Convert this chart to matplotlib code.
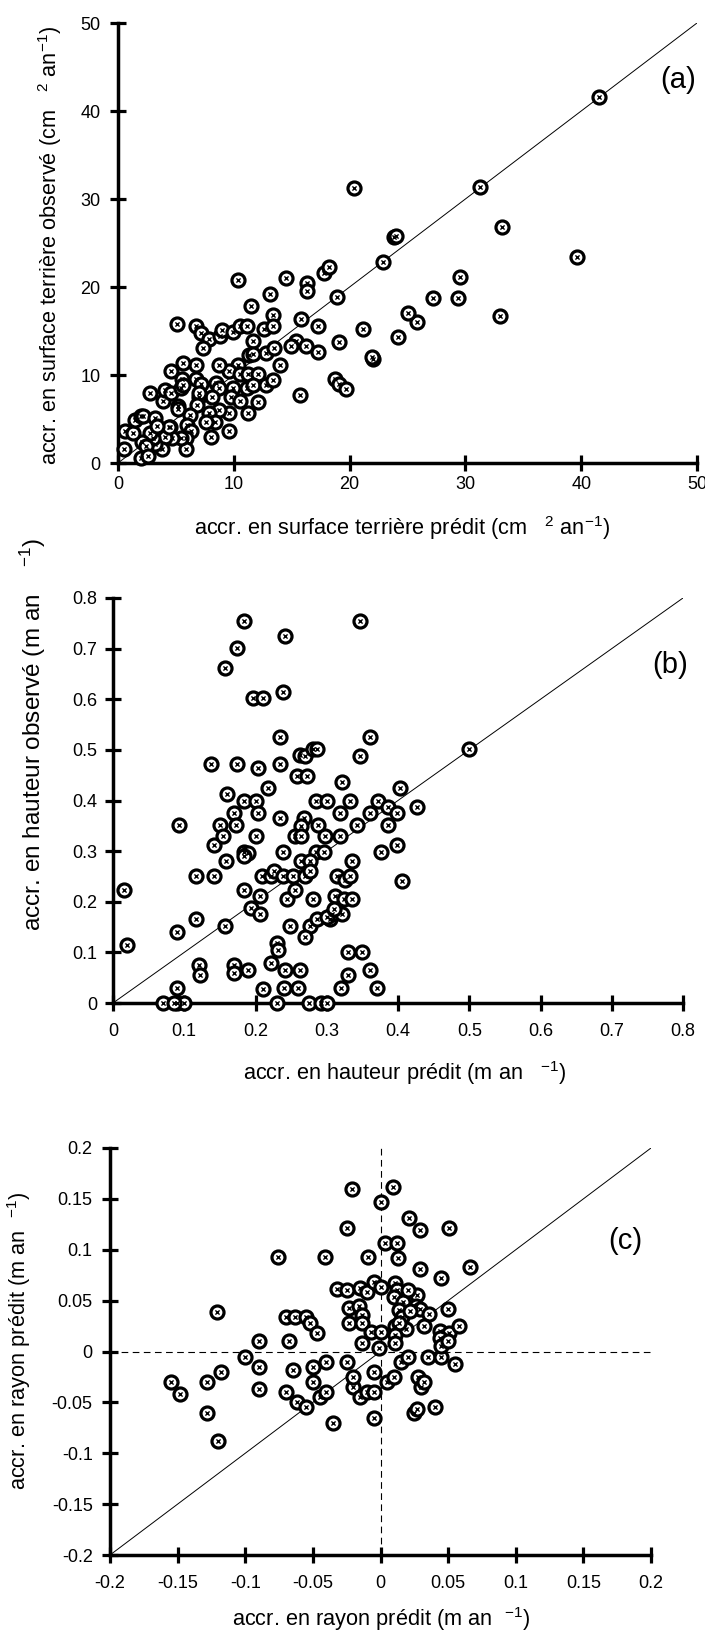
import numpy as np
import matplotlib
matplotlib.use("Agg")
import matplotlib.pyplot as plt

plt.rcParams['font.family'] = ['Liberation Sans', 'DejaVu Sans']
plt.rcParams['mathtext.fontset'] = 'custom'
plt.rcParams['mathtext.rm'] = 'Liberation Sans'
plt.rcParams['mathtext.default'] = 'regular'
plt.rcParams['axes.unicode_minus'] = False

# (predicted, observed) basal area increment, cm2/yr
surface_pts = [
    (41.5, 41.6), (39.6, 23.4), (31.3, 31.4), (33.2, 26.8), (29.5, 21.1), (29.4, 18.7),
    (33.0, 16.7), (27.2, 18.7), (25.8, 16.0), (25.0, 17.0), (24.2, 14.3), (23.8, 25.7),
    (24.0, 25.8), (22.9, 22.8), (22.0, 11.8), (20.4, 31.2),
    (10.4, 20.8), (14.5, 21.0), (16.3, 20.5), (16.3, 19.6), (17.8, 21.6), (18.2, 22.3),
    (13.1, 19.2), (11.5, 17.8), (18.9, 18.9), (13.4, 16.8), (15.8, 16.4), (5.1, 15.8),
    (6.7, 15.6), (7.2, 14.8), (7.9, 14.1), (8.8, 14.4), (9.0, 15.1), (9.9, 14.9),
    (10.5, 15.6), (11.1, 15.6), (12.6, 15.2), (13.4, 15.6), (11.7, 13.9), (7.3, 13.1),
    (15.4, 13.9), (14.9, 13.3), (16.2, 13.3), (17.3, 15.6), (19.1, 13.8), (21.2, 15.2),
    (21.9, 12.1), (17.3, 12.6), (12.8, 12.5), (13.5, 13.1), (11.3, 12.3), (11.7, 12.4),
    (14.0, 11.1), (10.4, 11.1), (9.6, 10.4), (10.5, 10.1), (11.2, 10.1), (12.1, 10.1),
    (8.7, 11.1), (6.7, 11.1), (5.6, 11.4), (4.6, 10.5), (5.5, 9.6), (6.7, 9.6),
    (7.2, 9.0), (8.5, 9.1), (8.7, 8.5), (9.9, 8.5), (9.8, 7.5), (10.5, 7.0),
    (11.1, 8.5), (11.7, 8.9), (12.8, 8.9), (13.4, 9.4), (12.1, 6.9), (11.2, 5.7),
    (9.6, 5.7), (8.7, 6.0), (7.9, 5.7), (8.4, 4.7), (7.6, 4.7), (8.0, 3.0),
    (9.6, 3.6), (8.1, 7.5), (7.0, 7.5), (7.0, 8.0), (6.8, 6.6), (6.2, 5.5),
    (6.0, 4.3), (6.3, 3.6), (5.9, 2.8), (5.9, 1.6), (5.4, 2.8), (5.2, 6.5),
    (5.2, 6.1), (4.5, 4.1), (4.7, 2.8), (4.1, 3.0), (4.4, 4.1), (3.8, 1.6),
    (3.2, 2.2), (3.0, 2.8), (2.8, 3.4), (2.1, 2.4), (2.4, 1.9), (2.0, 0.6),
    (2.6, 0.8), (0.5, 1.6), (0.6, 3.6), (1.3, 3.4), (1.5, 4.9), (2.0, 5.3),
    (2.2, 5.3), (3.2, 5.1), (3.4, 4.2), (2.8, 7.9), (3.9, 7.0), (4.1, 8.3),
    (4.6, 8.0), (5.4, 8.5), (5.6, 8.9), (15.7, 7.7), (18.7, 9.6), (19.1, 9.0),
    (19.7, 8.4),
]

# (predicted, observed) height increment, m/yr
height_pts = [
    (0.184, 0.755), (0.347, 0.755), (0.242, 0.725), (0.174, 0.702), (0.157, 0.662),
    (0.197, 0.602), (0.210, 0.602), (0.238, 0.615), (0.234, 0.526), (0.360, 0.526),
    (0.263, 0.490), (0.270, 0.488), (0.281, 0.501), (0.286, 0.501), (0.347, 0.488),
    (0.137, 0.473), (0.174, 0.473), (0.204, 0.465), (0.234, 0.473), (0.258, 0.448),
    (0.272, 0.448), (0.218, 0.424), (0.322, 0.437), (0.403, 0.424), (0.160, 0.412),
    (0.184, 0.400), (0.201, 0.400), (0.285, 0.400), (0.301, 0.400), (0.332, 0.400),
    (0.372, 0.400), (0.386, 0.388), (0.399, 0.375), (0.426, 0.388), (0.170, 0.376),
    (0.204, 0.376), (0.318, 0.376), (0.360, 0.375), (0.092, 0.352), (0.150, 0.352),
    (0.173, 0.352), (0.234, 0.365), (0.268, 0.365), (0.264, 0.350), (0.288, 0.352),
    (0.343, 0.352), (0.386, 0.352), (0.142, 0.312), (0.155, 0.329), (0.201, 0.329),
    (0.255, 0.329), (0.264, 0.329), (0.298, 0.329), (0.319, 0.329), (0.399, 0.312),
    (0.376, 0.299), (0.184, 0.299), (0.238, 0.299), (0.285, 0.299), (0.296, 0.299),
    (0.190, 0.297), (0.184, 0.290),
    (0.015, 0.223), (0.116, 0.251), (0.116, 0.165), (0.142, 0.251), (0.157, 0.153),
    (0.158, 0.281), (0.184, 0.223), (0.194, 0.187), (0.207, 0.211), (0.207, 0.176),
    (0.209, 0.251), (0.222, 0.251), (0.226, 0.261), (0.238, 0.251), (0.244, 0.205),
    (0.248, 0.153), (0.255, 0.223), (0.253, 0.251), (0.264, 0.281), (0.269, 0.251),
    (0.277, 0.281), (0.276, 0.153), (0.276, 0.261), (0.281, 0.205), (0.286, 0.165),
    (0.305, 0.165), (0.308, 0.176), (0.312, 0.211), (0.315, 0.251), (0.322, 0.176),
    (0.324, 0.205), (0.326, 0.242), (0.333, 0.251), (0.335, 0.205), (0.335, 0.280),
    (0.406, 0.241),
    (0.020, 0.115), (0.090, 0.140), (0.090, 0.030), (0.090, 0.000), (0.070, 0.000),
    (0.100, 0.000), (0.085, 0.000), (0.120, 0.075), (0.122, 0.055), (0.170, 0.075),
    (0.170, 0.060), (0.190, 0.065), (0.210, 0.028), (0.222, 0.080), (0.230, 0.118),
    (0.232, 0.105), (0.230, 0.000), (0.240, 0.030), (0.242, 0.065), (0.262, 0.065),
    (0.260, 0.030), (0.270, 0.130), (0.275, 0.000), (0.292, 0.000), (0.300, 0.000),
    (0.320, 0.030), (0.330, 0.055), (0.330, 0.100), (0.350, 0.100), (0.360, 0.065),
    (0.370, 0.030), (0.500, 0.502), (0.300, 0.170), (0.310, 0.185),
]

# (predicted, observed) radius increment, m/yr
radius_pts = [
    (-0.021, 0.160), (0.009, 0.162), (0.000, 0.147), (0.021, 0.131), (0.029, 0.119),
    (0.051, 0.121), (-0.025, 0.121), (0.003, 0.107), (0.012, 0.107), (-0.076, 0.093),
    (-0.041, 0.093), (-0.009, 0.093), (0.013, 0.092), (0.029, 0.081), (0.066, 0.083),
    (0.045, 0.072), (-0.032, 0.061), (-0.025, 0.060), (-0.015, 0.062), (-0.010, 0.058),
    (-0.005, 0.068), (0.000, 0.063), (0.011, 0.067), (0.012, 0.060), (0.010, 0.054),
    (0.027, 0.056), (0.017, 0.049), (0.026, 0.045), (0.029, 0.042), (0.036, 0.037),
    (0.050, 0.042), (0.014, 0.041), (0.016, 0.034), (0.022, 0.040), (-0.023, 0.043),
    (-0.016, 0.045), (-0.014, 0.036), (-0.023, 0.028), (-0.014, 0.028), (-0.007, 0.019),
    (0.000, 0.019), (0.011, 0.025), (0.019, 0.022), (0.014, 0.028), (0.032, 0.025),
    (0.044, 0.020), (0.051, 0.018), (0.058, 0.025), (0.044, 0.013), (0.011, 0.016),
    (0.011, 0.008), (-0.121, 0.039), (-0.070, 0.034), (-0.063, 0.034), (-0.055, 0.034),
    (-0.052, 0.028), (-0.047, 0.018), (-0.090, 0.010), (-0.068, 0.010), (-0.014, 0.008),
    (-0.001, 0.003),
    (-0.155, -0.030), (-0.148, -0.042), (-0.128, -0.030), (-0.128, -0.060), (-0.120, -0.088),
    (-0.118, -0.020), (-0.100, -0.005), (-0.090, -0.015), (-0.090, -0.037), (-0.070, -0.040),
    (-0.065, -0.018), (-0.062, -0.050), (-0.055, -0.055), (-0.050, -0.030), (-0.050, -0.015),
    (-0.045, -0.045), (-0.040, -0.040), (-0.040, -0.010), (-0.035, -0.070), (-0.025, -0.010),
    (-0.020, -0.035), (-0.015, -0.045), (-0.020, -0.025), (-0.010, -0.040), (-0.005, -0.020),
    (-0.005, -0.065), (-0.005, -0.040), (0.005, -0.030), (0.010, -0.025), (0.015, -0.010),
    (0.020, -0.005), (0.025, -0.060), (0.027, -0.057), (0.028, -0.025), (0.030, -0.035),
    (0.032, -0.030), (0.035, -0.005), (0.040, -0.055), (0.045, -0.005), (0.045, 0.005),
    (0.055, -0.012), (0.050, 0.010), (0.020, 0.060),
]

W, H = 705, 1632
TICK_FS = 13
LABEL_FS = 15.7
TAG_FS = 21


def px_rect(left, top, right, bottom):
    return [left / W, 1 - bottom / H, (right - left) / W, (bottom - top) / H]


def px_text(x, y, s, **kw):
    fig.text(x / W, 1 - y / H, s, ha='center', va='center', **kw)


def setup(ax, lim, ticks, labels, xpad, ypad):
    ax.spines[['top', 'right']].set_visible(False)
    for side in ['left', 'bottom']:
        ax.spines[side].set_linewidth(2.5)
    ax.set_xlim(lim)
    ax.set_ylim(lim)
    ax.set_xticks(ticks, labels)
    ax.set_yticks(ticks, labels)
    ax.tick_params(direction='inout', length=11, width=2.3, labelsize=TICK_FS)
    ax.tick_params(axis='x', pad=xpad)
    ax.tick_params(axis='y', pad=ypad)
    ax.plot(lim, lim, color='black', lw=0.7, zorder=2)


def draw_points(ax, pts):
    x, y = np.array(pts).T
    ax.scatter(x, y, s=88, facecolors='white', edgecolors='black',
               linewidths=2.3, zorder=3, clip_on=False)
    ax.scatter(x, y, s=9, marker='x', color='black', linewidths=1.0,
               zorder=4, clip_on=False)


fig = plt.figure(figsize=(W / 100, H / 100), dpi=100)

# (a) basal area
ax1 = fig.add_axes(px_rect(118, 23, 697, 463))
setup(ax1, (0, 50), [0, 10, 20, 30, 40, 50], ['0', '10', '20', '30', '40', '50'], 4, 7)
draw_points(ax1, surface_pts)
px_text(678, 80, '(a)', fontsize=TAG_FS)
px_text(402, 528, 'accr. en surface terrière prédit (cm   $^{2}$ an$^{-1}$)', fontsize=LABEL_FS)
px_text(50, 245, 'accr. en surface terrière observé (cm   $^{2}$ an$^{-1}$)',
        fontsize=LABEL_FS, rotation=90)

# (b) height
ax2 = fig.add_axes(px_rect(113, 598, 683, 1003))
hticks = [0, 0.1, 0.2, 0.3, 0.4, 0.5, 0.6, 0.7, 0.8]
setup(ax2, (0, 0.8), hticks, ['0', '0.1', '0.2', '0.3', '0.4', '0.5', '0.6', '0.7', '0.8'], 9, 6)
draw_points(ax2, height_pts)
px_text(670, 665, '(b)', fontsize=TAG_FS)
px_text(405, 1073, 'accr. en hauteur prédit (m an   $^{-1}$)', fontsize=LABEL_FS)
px_text(33, 735, 'accr. en hauteur observé (m an    $^{-1}$)', fontsize=17.5, rotation=90)

# (c) radius
ax3 = fig.add_axes(px_rect(110, 1148, 651, 1555))
rticks = [-0.2, -0.15, -0.1, -0.05, 0, 0.05, 0.1, 0.15, 0.2]
rlabels = ['-0.2', '-0.15', '-0.1', '-0.05', '0', '0.05', '0.1', '0.15', '0.2']
setup(ax3, (-0.2, 0.2), rticks, rlabels, 9, 7)
ax3.plot([-0.2, 0.2], [0, 0], color='black', lw=0.8, ls=(0, (6, 4)), zorder=1)
ax3.plot([0, 0], [-0.2, 0.2], color='black', lw=0.8, ls=(0, (6, 4)), zorder=1)
draw_points(ax3, radius_pts)
px_text(625, 1241, '(c)', fontsize=TAG_FS)
px_text(381, 1619, 'accr. en rayon prédit (m an  $^{-1}$)', fontsize=LABEL_FS)
px_text(19, 1341, 'accr. en rayon prédit (m an  $^{-1}$)', fontsize=LABEL_FS, rotation=90)

fig.savefig('out.png', dpi=100)
